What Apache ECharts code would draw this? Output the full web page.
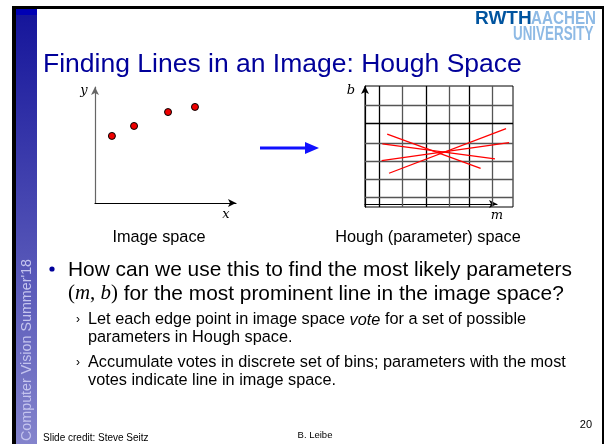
<!DOCTYPE html>
<html><head><meta charset="utf-8">
<script src="https://cdn.jsdelivr.net/npm/echarts@6/dist/echarts.min.js"></script>
<style>html,body{margin:0;padding:0;background:#fff}#c{width:607px;height:444px}</style>
</head><body><div id="c"></div>
<script>
// ---- data ----
const imagePointsX = [1.2, 2.77, 5.18, 7.09];
const imagePointsY = [5.78, 6.64, 7.84, 8.28];
const houghStartM = [0.96, 0.75, 0.72, 1.04];
const houghStartB = [3.98, 3.44, 2.53, 1.84];
const houghEndM = [5.0, 5.62, 6.23, 6.1];
const houghEndB = [2.11, 2.62, 3.51, 4.27];
const houghBinM = [0.6, 1.6, 2.64, 3.63, 4.5, 5.5];
const houghBinB = [0.55, 1.53, 2.5, 3.5, 4.58, 5.56];
const titleText = 'Finding Lines in an Image: Hough Space';
const captions = ['Image space', 'Hough (parameter) space'];

const chart = echarts.init(document.getElementById('c'), null, {renderer: 'canvas'});
const SANS = '"Liberation Sans", Arial, sans-serif';
const SERIF = '"DejaVu Serif", "Liberation Serif", serif';
const MATH = '"Liberation Serif", "DejaVu Serif", serif';
const binColors = ['#555', '#000'];

function hideAxis(gi, min, max, arrow, axisColor) {
  return {
    gridIndex: gi, type: 'value', min: min, max: max,
    axisLine: {show: !!arrow, onZero: false, symbol: ['none', 'arrow'], symbolSize: [6, 8],
      lineStyle: {color: axisColor || '#000', width: 1.2}},
    axisTick: {show: false}, axisLabel: {show: false}, splitLine: {show: false}
  };
}

const houghSeries = houghStartM.map((m, i) => ({
  type: 'line', xAxisIndex: 1, yAxisIndex: 1, symbol: 'none', silent: true,
  lineStyle: {color: '#ff0000', width: 1.3},
  data: [[m, houghStartB[i]], [houghEndM[i], houghEndB[i]]],
  z: 5
}));

const option = {
  animation: false,
  grid: [
    {left: 95, top: 87, width: 141, height: 116},
    {left: 365, top: 86, width: 148, height: 121, show: true, borderColor: '#000', borderWidth: 1, backgroundColor: 'transparent'},
    {left: 365, top: 86, width: 132, height: 118}
  ],
  xAxis: [hideAxis(0, 0, 10, true, '#000'), hideAxis(1, 0, 6.4, false), hideAxis(2, 0, 10, true, '#000')],
  yAxis: [hideAxis(0, 0, 10, true, '#666'), hideAxis(1, 0, 6.6, true, '#000'), hideAxis(2, 0, 10, false)],
  series: [
    {
      type: 'scatter', xAxisIndex: 0, yAxisIndex: 0, symbolSize: 7,
      itemStyle: {color: '#ee0000', borderColor: '#000', borderWidth: 1, opacity: 1},
      data: imagePointsX.map((x, i) => [x, imagePointsY[i]])
    },
    {
      type: 'line', xAxisIndex: 1, yAxisIndex: 1, data: [], silent: true,
      markLine: {
        silent: true, symbol: ['none', 'none'], label: {show: false},
        data: houghBinM.map((m, i) => ({xAxis: m, lineStyle: {color: binColors[(i + 1) % 2], width: 1.3, type: 'solid'}}))
          .concat(houghBinB.map((b, i) => ({yAxis: b, lineStyle: {color: binColors[i === 4 ? 1 : 0], width: 1.3, type: 'solid'}})))
      }
    }
  ].concat(houghSeries),
  graphic: [
    // slide frame
    {type: 'rect', shape: {x: 12, y: 6, width: 592, height: 3}, style: {fill: '#000'}, silent: true},
    {type: 'rect', shape: {x: 16, y: 9, width: 21, height: 435},
      style: {fill: new echarts.graphic.LinearGradient(0, 0, 0, 1, [
        {offset: 0, color: '#14149a'}, {offset: 1, color: '#8484cc'}])}, silent: true},
    {type: 'rect', shape: {x: 16, y: 9, width: 21, height: 6}, style: {fill: '#0000b4'}, silent: true},
    {type: 'rect', shape: {x: 12, y: 6, width: 4, height: 438}, style: {fill: '#000'}, silent: true},
    {type: 'rect', shape: {x: 602, y: 6, width: 2, height: 438}, style: {fill: '#000'}, silent: true},
    {type: 'text', x: 27, y: 441, rotation: Math.PI / 2,
      style: {text: "Computer Vision Summer'18", font: '14.3px ' + SANS, fill: '#c4c4ee', align: 'left', verticalAlign: 'middle'}},
    // logo
    {type: 'text', x: 475, y: 9, scaleX: 1.0,
      style: {text: 'RWTH', font: 'bold 19px ' + SANS, fill: '#00549f', align: 'left', verticalAlign: 'top'}},
    {type: 'text', x: 531, y: 9, scaleX: 0.8,
      style: {text: 'AACHEN', font: 'bold 19px ' + SANS, fill: '#8ebae5', align: 'left', verticalAlign: 'top'}},
    {type: 'text', x: 513, y: 24, scaleX: 0.67, scaleY: 1.05,
      style: {text: 'UNIVERSITY', font: 'bold 20px ' + SANS, fill: '#8ebae5', align: 'left', verticalAlign: 'top'}},
    // title
    {type: 'text', x: 43, y: 51,
      style: {text: titleText, font: '26.5px ' + SANS, fill: '#00009a', align: 'left', verticalAlign: 'top'}},
    // axis labels
    {type: 'text', x: 84, y: 91, style: {text: 'y', font: 'italic 13px ' + SERIF, fill: '#000', align: 'center', verticalAlign: 'middle'}},
    {type: 'text', x: 226, y: 215, style: {text: 'x', font: 'italic 13px ' + SERIF, fill: '#000', align: 'center', verticalAlign: 'middle'}},
    {type: 'text', x: 351, y: 91, style: {text: 'b', font: 'italic 13px ' + SERIF, fill: '#000', align: 'center', verticalAlign: 'middle'}},
    {type: 'text', x: 497, y: 216, style: {text: 'm', font: 'italic 13px ' + SERIF, fill: '#000', align: 'center', verticalAlign: 'middle'}},
    // captions
    {type: 'text', x: 159, y: 238, style: {text: captions[0], font: '16.3px ' + SANS, fill: '#000', align: 'center', verticalAlign: 'middle'}},
    {type: 'text', x: 428, y: 238, style: {text: captions[1], font: '16.3px ' + SANS, fill: '#000', align: 'center', verticalAlign: 'middle'}},
    // middle arrow
    {type: 'line', shape: {x1: 260, y1: 148, x2: 309, y2: 148}, style: {stroke: '#1010ff', lineWidth: 3}, silent: true},
    {type: 'polygon', shape: {points: [[305, 142], [319, 148], [305, 154]]}, style: {fill: '#1010ff'}, silent: true},
    // bullets
    {type: 'circle', shape: {cx: 52, cy: 269, r: 2.6}, style: {fill: '#00009a'}},
    {type: 'text', x: 68, y: 270, style: {text: 'How can we use this to find the most likely parameters', font: '20.9px ' + SANS, fill: '#000', align: 'left', verticalAlign: 'middle'}},
    {type: 'text', x: 68, y: 294, style: {
      text: '{p|(}{i|m}{p|, }{i|b}{p|)} for the most prominent line in the image space?',
      font: '20.9px ' + SANS, fill: '#000', align: 'left', verticalAlign: 'middle',
      rich: {p: {font: '20.9px ' + MATH}, i: {font: 'italic 20.9px ' + MATH}}}},
    {type: 'text', x: 76, y: 320, style: {text: '\u203a', font: '12px ' + SANS, fill: '#000', align: 'left', verticalAlign: 'middle'}},
    {type: 'text', x: 76, y: 363, style: {text: '\u203a', font: '12px ' + SANS, fill: '#000', align: 'left', verticalAlign: 'middle'}},
    {type: 'text', x: 88, y: 320, style: {
      text: 'Let each edge point in image space {it|vote} for a set of possible',
      font: '16.3px ' + SANS, fill: '#000', align: 'left', verticalAlign: 'middle',
      rich: {it: {font: 'italic 16.3px ' + SANS}}}},
    {type: 'text', x: 88, y: 338, style: {text: 'parameters in Hough space.', font: '16.3px ' + SANS, fill: '#000', align: 'left', verticalAlign: 'middle'}},
    {type: 'text', x: 88, y: 363, style: {text: 'Accumulate votes in discrete set of bins; parameters with the most', font: '16.3px ' + SANS, fill: '#000', align: 'left', verticalAlign: 'middle'}},
    {type: 'text', x: 88, y: 381, style: {text: 'votes indicate line in image space.', font: '16.3px ' + SANS, fill: '#000', align: 'left', verticalAlign: 'middle'}},
    // footer
    {type: 'text', x: 43, y: 438, style: {text: 'Slide credit: Steve Seitz', font: '10px ' + SANS, fill: '#000', align: 'left', verticalAlign: 'middle'}},
    {type: 'text', x: 315, y: 435, style: {text: 'B. Leibe', font: '9.5px ' + SANS, fill: '#000', align: 'center', verticalAlign: 'middle'}},
    {type: 'text', x: 592, y: 425, style: {text: '20', font: '11px ' + SANS, fill: '#000', align: 'right', verticalAlign: 'middle'}}
  ]
};
chart.setOption(option);
</script>
</body></html>
